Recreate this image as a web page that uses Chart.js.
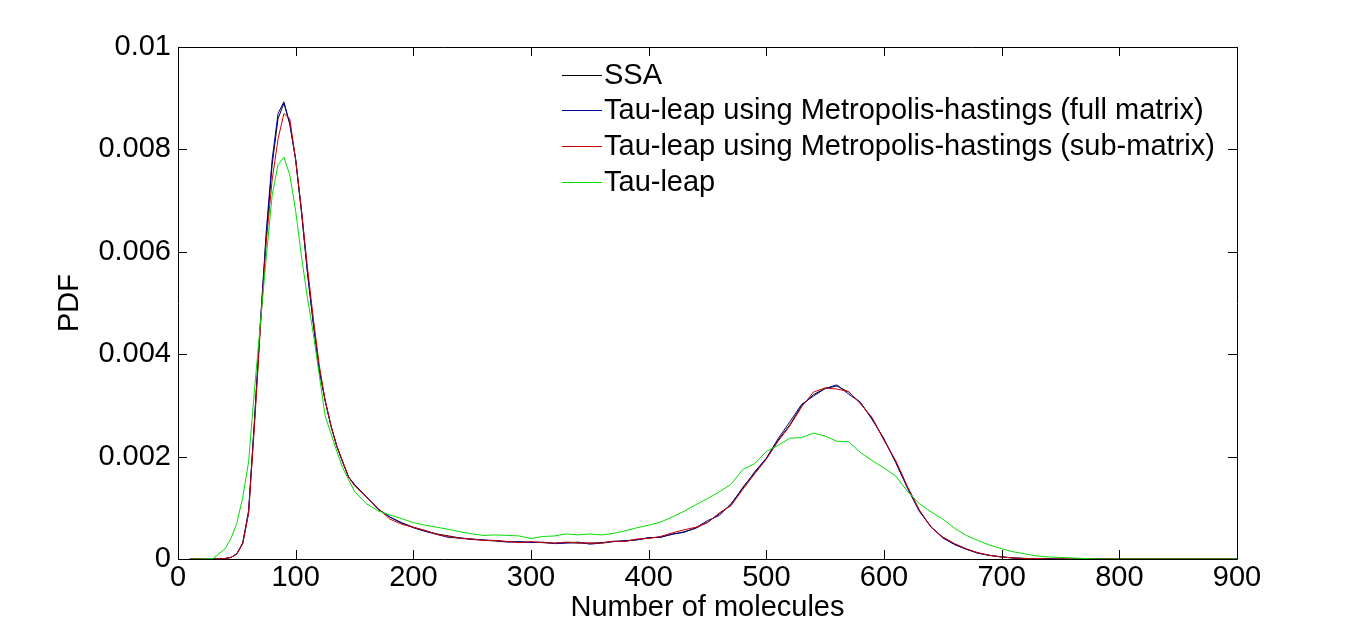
<!DOCTYPE html>
<html>
<head>
<meta charset="utf-8">
<title>PDF of molecule counts</title>
<script src="https://cdn.jsdelivr.net/npm/chart.js@4.4.0/dist/chart.umd.min.js"></script>
<style>
    html, body { margin: 0; padding: 0; background: #fff; }
    #wrap { width: 1366px; height: 628px; }
</style>
</head>
<body>
<div id="wrap"><canvas id="pdf-chart" width="1366" height="628"></canvas></div>
<script>
// number of molecules (bin centres)
const xs = [10, 20, 30, 40,
    45, 50, 55, 60, 65, 70, 75, 80, 85, 90, 95, 100, 105, 110, 115, 120, 125, 130, 135, 140, 145, 150,
    160, 170, 180, 190, 200, 210, 220, 230, 240, 250, 260, 270, 280, 290, 300, 310, 320, 330, 340, 350,
    360, 370, 380, 390, 400, 410, 420, 430, 440, 450, 460, 470, 480, 490, 500, 510, 520, 530, 540, 550,
    560, 570, 580, 590, 600, 610, 620, 630, 640, 650, 660, 670, 680, 690, 700, 710, 720, 730, 740, 750,
    760, 770, 780, 790, 800, 810, 820, 830, 840, 850, 860, 870, 880, 890, 900];

const ssa = [0, 0, 0, 0.00001,
    0.00003, 0.0001, 0.0003, 0.0009, 0.0027, 0.0046, 0.0063, 0.0077, 0.0086, 0.0089, 0.0085, 0.0078, 0.00675, 0.0056, 0.0046, 0.0037, 0.0031, 0.0026, 0.0022, 0.0019, 0.0016, 0.00145,
    0.00122, 0.00098, 0.00082, 0.00071, 0.00062, 0.00055, 0.00049, 0.00045, 0.00041, 0.00039, 0.00037, 0.00036, 0.00034, 0.00033, 0.00033, 0.00032, 0.00031, 0.00032, 0.00031, 0.00031,
    0.00032, 0.00034, 0.00035, 0.00038, 0.00041, 0.00043, 0.00048, 0.00053, 0.0006, 0.00072, 0.00088, 0.00106, 0.0014, 0.00168, 0.00196, 0.00232, 0.00262, 0.003, 0.00321, 0.00333,
    0.00338, 0.00326, 0.00305, 0.00274, 0.00233, 0.0019, 0.0014, 0.00095, 0.00062, 0.00042, 0.00029, 0.00019, 0.00012, 0.00007, 0.00004, 0.00002, 0.00001, 0.00001, 0, 0,
    0, 0, 0, 0, 0, 0, 0, 0, 0, 0, 0, 0, 0, 0, 0];

const mhFull = [0, 0, 0, 0.00001,
    0.00003, 0.0001, 0.00032, 0.00095, 0.0027, 0.0046, 0.0064, 0.0078, 0.0087, 0.00893, 0.0085, 0.0078, 0.0068, 0.0056, 0.0046, 0.0037, 0.0031, 0.0026, 0.0022, 0.00188, 0.0016, 0.00146,
    0.00121, 0.00097, 0.00082, 0.0007, 0.00061, 0.00054, 0.00048, 0.00042, 0.00041, 0.00038, 0.00037, 0.00035, 0.00033, 0.00034, 0.00032, 0.00033, 0.0003, 0.00031, 0.00033, 0.00029,
    0.00031, 0.00034, 0.00036, 0.00037, 0.00042, 0.00042, 0.00049, 0.00052, 0.00061, 0.00075, 0.00085, 0.00108, 0.00138, 0.0017, 0.00197, 0.00235, 0.00268, 0.00302, 0.00318, 0.00333,
    0.0034, 0.00322, 0.00306, 0.00272, 0.00235, 0.00188, 0.00138, 0.00093, 0.00063, 0.00041, 0.00028, 0.00019, 0.00011, 0.00007, 0.00004, 0.00002, 0.00001, 0.00001, 0.00001, 0,
    0, 0, 0, 0, 0, 0, 0, 0, 0, 0, 0, 0, 0, 0, 0];

const mhSub = [0, 0, 0, 0.00001,
    0.00003, 0.0001, 0.0003, 0.0009, 0.0026, 0.0045, 0.0062, 0.0074, 0.0082, 0.0087, 0.0086, 0.0078, 0.0068, 0.0057, 0.0047, 0.0038, 0.0031, 0.0026, 0.0022, 0.0019, 0.0016, 0.00143,
    0.00121, 0.00099, 0.00078, 0.00068, 0.00062, 0.00056, 0.00048, 0.00044, 0.0004, 0.00039, 0.00036, 0.00036, 0.00034, 0.00032, 0.00034, 0.00032, 0.00031, 0.00033, 0.00032, 0.00031,
    0.00031, 0.00035, 0.00034, 0.00039, 0.0004, 0.00044, 0.00051, 0.00057, 0.00062, 0.00071, 0.0009, 0.00104, 0.00136, 0.00166, 0.00195, 0.0023, 0.0026, 0.00297, 0.00326, 0.00334,
    0.00332, 0.00327, 0.00303, 0.00276, 0.00232, 0.00192, 0.00141, 0.00096, 0.00062, 0.00043, 0.0003, 0.0002, 0.00012, 0.00007, 0.00004, 0.00002, 0.00001, 0.00001, 0, 0,
    0, 0, 0, 0, 0, 0, 0, 0, 0, 0, 0, 0, 0, 0, 0];

const tauLeap = [0, 0, 0.00001, 0.0002,
    0.0004, 0.0007, 0.0012, 0.0019, 0.0033, 0.0046, 0.0059, 0.0071, 0.0077, 0.00785, 0.0075, 0.0068, 0.0059, 0.0051, 0.0044, 0.0036, 0.0028, 0.00245, 0.0021, 0.00178, 0.00155, 0.00132,
    0.00108, 0.00094, 0.00086, 0.00079, 0.00071, 0.00066, 0.00062, 0.00058, 0.00053, 0.00049, 0.00046, 0.00047, 0.00046, 0.00045, 0.0004, 0.00044, 0.00045, 0.00049, 0.00047, 0.00049,
    0.00047, 0.0005, 0.00055, 0.00061, 0.00066, 0.00072, 0.00082, 0.00093, 0.00106, 0.00118, 0.00131, 0.00146, 0.00175, 0.00186, 0.0021, 0.00222, 0.00236, 0.00237, 0.00246, 0.0024,
    0.0023, 0.00229, 0.00208, 0.00192, 0.00178, 0.00162, 0.00132, 0.00108, 0.00092, 0.00078, 0.0006, 0.00046, 0.00036, 0.00027, 0.0002, 0.00014, 0.0001, 0.00006, 0.00004, 0.00003,
    0.00002, 0.00001, 0, 0, 0, 0, 0, 0, 0, 0, 0, 0, 0, 0, 0];

const seriesLabels = [
    'SSA',
    'Tau-leap using Metropolis-hastings (full matrix)',
    'Tau-leap using Metropolis-hastings (sub-matrix)',
    'Tau-leap'
];
const seriesColors = ['#000000', '#00009c', '#d00000', '#00dd00'];

const xTicks = [0, 100, 200, 300, 400, 500, 600, 700, 800, 900];
const yTicks = [0, 0.002, 0.004, 0.006, 0.008, 0.01];

const FONT = "'Liberation Sans', Arial, Helvetica, sans-serif";
const FONT_SIZE = 29;

function toPoints(values) {
    return xs.map((x, i) => ({ x: x, y: values[i] }));
}

// MATLAB style box with inward ticks on all four sides
const boxPlugin = {
    id: 'boxTicks',
    afterDatasetsDraw(chart) {
        const ctx = chart.ctx;
        const area = chart.chartArea;
        const xs_ = chart.scales.x;
        const ys_ = chart.scales.y;
        const len = 9;
        ctx.save();
        ctx.strokeStyle = '#000';
        ctx.lineWidth = 1;
        ctx.beginPath();
        ctx.rect(Math.round(area.left) + 0.5, Math.round(area.top) + 0.5,
            Math.round(area.right - area.left), Math.round(area.bottom - area.top));
        xTicks.forEach(v => {
            const px = Math.round(xs_.getPixelForValue(v)) + 0.5;
            ctx.moveTo(px, area.bottom);
            ctx.lineTo(px, area.bottom - len);
            ctx.moveTo(px, area.top);
            ctx.lineTo(px, area.top + len);
        });
        yTicks.forEach(v => {
            const py = Math.round(ys_.getPixelForValue(v)) + 0.5;
            ctx.moveTo(area.left, py);
            ctx.lineTo(area.left + len, py);
            ctx.moveTo(area.right, py);
            ctx.lineTo(area.right - len, py);
        });
        ctx.stroke();
        ctx.restore();
    }
};

// legend drawn inside the axes, no frame
const legendPlugin = {
    id: 'innerLegend',
    afterDatasetsDraw(chart) {
        const ctx = chart.ctx;
        const area = chart.chartArea;
        const lineX0 = area.left + 384;
        const lineX1 = area.left + 424;
        const textX = area.left + 426;
        const rowY = [28, 63, 99, 135];
        ctx.save();
        ctx.font = FONT_SIZE + 'px ' + FONT;
        ctx.textBaseline = 'middle';
        ctx.textAlign = 'left';
        chart.data.datasets.forEach((ds, i) => {
            const y = Math.round(area.top + rowY[i]) + 0.5;
            ctx.strokeStyle = ds.borderColor;
            ctx.lineWidth = 1;
            ctx.beginPath();
            ctx.moveTo(lineX0, y);
            ctx.lineTo(lineX1, y);
            ctx.stroke();
            ctx.fillStyle = '#000';
            ctx.fillText(ds.label, textX, y);
        });
        ctx.restore();
    }
};

document.addEventListener('DOMContentLoaded', function() {
    const el = document.getElementById('pdf-chart');
    const allSeries = [ssa, mhFull, mhSub, tauLeap];

    new Chart(el, {
        type: 'line',
        data: {
            datasets: allSeries.map((vals, i) => ({
                label: seriesLabels[i],
                data: toPoints(vals),
                borderColor: seriesColors[i],
                backgroundColor: seriesColors[i],
                borderWidth: 1,
                pointRadius: 0,
                tension: 0,
                fill: false,
                order: 3 - i
            }))
        },
        options: {
            responsive: false,
            animation: false,
            devicePixelRatio: 1,
            layout: { padding: { top: 47, right: 129, left: 0, bottom: 0 } },
            plugins: {
                legend: { display: false },
                tooltip: { enabled: false }
            },
            scales: {
                x: {
                    type: 'linear',
                    min: 0,
                    max: 900,
                    afterBuildTicks(scale) {
                        scale.ticks = xTicks.map(v => ({ value: v }));
                    },
                    afterFit(scale) { scale.height = 69; },
                    ticks: {
                        color: '#000',
                        font: { family: FONT, size: FONT_SIZE },
                        padding: 2,
                        maxRotation: 0,
                        autoSkip: false
                    },
                    grid: { display: false, drawTicks: false },
                    border: { display: false },
                    title: {
                        display: true,
                        text: 'Number of molecules',
                        color: '#000',
                        font: { family: FONT, size: FONT_SIZE },
                        padding: { top: 0, bottom: 3 }
                    }
                },
                y: {
                    type: 'linear',
                    min: 0,
                    max: 0.01,
                    afterBuildTicks(scale) {
                        scale.ticks = yTicks.map(v => ({ value: v }));
                    },
                    afterFit(scale) { scale.width = 178; },
                    ticks: {
                        color: '#000',
                        font: { family: FONT, size: FONT_SIZE },
                        padding: 7,
                        callback: v => String(Number(v.toFixed(3)))
                    },
                    grid: { display: false, drawTicks: false },
                    border: { display: false },
                    title: {
                        display: true,
                        text: 'PDF',
                        color: '#000',
                        font: { family: FONT, size: FONT_SIZE },
                        padding: { top: 53, bottom: 0 }
                    }
                }
            }
        },
        plugins: [boxPlugin, legendPlugin]
    });
});
</script>
</body>
</html>
